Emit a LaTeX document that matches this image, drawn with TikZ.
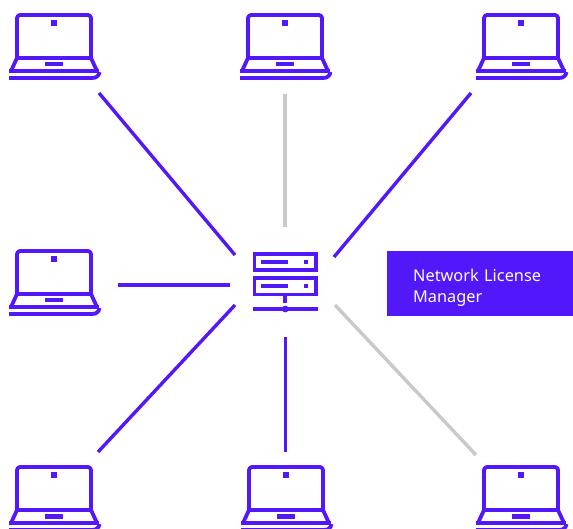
\documentclass[tikz,border=0pt]{standalone}
\usepackage{fontspec}
\setmainfont{Noto Sans}
\definecolor{brand}{HTML}{5218FA}
\definecolor{muted}{HTML}{C9C9C9}
\tikzset{
  x=1pt,y=-1pt,
  link/.style={line width=3.4pt,color=brand},
  mutedlink/.style={line width=3.4pt,color=muted},
  icon/.style={line width=3.8pt,color=brand,line join=round},
  laptop/.pic={
    \draw[icon,rounded corners=3pt] (17,58) -- (17,15) -- (91,15) -- (91,58);
    \draw[icon] (17,58) -- (91,58) -- (97,71) -- (11,71) -- cycle;
    \draw[icon] (9,71) -- (99,71);
    \draw[icon] (9,78) -- (92,78) .. controls (96,78) and (99,76) .. (99.5,72);
    \fill[brand] (45,62) rectangle (63,66.5);
    \fill[brand] (51,20) rectangle (57,26);
  },
  panel/.style={fill=brand,text=white,font=\fontsize{16.3}{21}\selectfont,align=left,
    anchor=north west,minimum width=186pt,minimum height=65pt,inner sep=0pt,text width=186pt},
}
\begin{document}
\begin{tikzpicture}
\useasboundingbox (0,0) rectangle (573,529);
\begin{scope}
\clip (0,0) rectangle (573,529);
\pic at (0,0) {laptop};
\pic at (231,0) {laptop};
\pic at (467,0) {laptop};
\pic at (0,236) {laptop};
\pic at (0,452) {laptop};
\pic at (232,452) {laptop};
\pic at (467,452) {laptop};
\end{scope}
% server
\draw[icon,line join=miter] (254.5,254) rectangle (316,270);
\draw[icon,line join=miter] (254.5,278) rectangle (316,294.5);
\fill[brand] (261,260) rectangle (288,264);
\fill[brand] (303.5,260) rectangle (308,264);
\fill[brand] (261,284) rectangle (288,288);
\fill[brand] (303.5,284) rectangle (308,288);
\fill[brand] (283.3,296) rectangle (287.3,303);
\fill[brand] (253,307) rectangle (318,311);
\fill[brand] (285.3,309) circle (3.4pt);
% connector ends
\coordinate (tlA) at (99,93);   \coordinate (tlB) at (235,255);
\coordinate (tmA) at (285,94);  \coordinate (tmB) at (285,227);
\coordinate (trA) at (471,93);  \coordinate (trB) at (334,257);
\coordinate (mlA) at (118,285); \coordinate (mlB) at (230,285);
\coordinate (blA) at (98,452);  \coordinate (blB) at (235,305);
\coordinate (bmA) at (285.3,452); \coordinate (bmB) at (285.3,337);
\coordinate (brA) at (476,455); \coordinate (brB) at (335,305);
\draw[link] (tlA) -- (tlB);
\draw[mutedlink] (tmA) -- (tmB);
\draw[link] (trA) -- (trB);
\draw[link] (mlA) -- (mlB);
\draw[link] (blA) -- (blB);
\draw[link] (bmA) -- (bmB);
\draw[mutedlink] (brA) -- (brB);
\node[panel] (license) at (387,251) {\rule{0pt}{19.9pt}\hspace*{26pt}Network License\\\hspace*{26pt}Manager};
\end{tikzpicture}
\end{document}
